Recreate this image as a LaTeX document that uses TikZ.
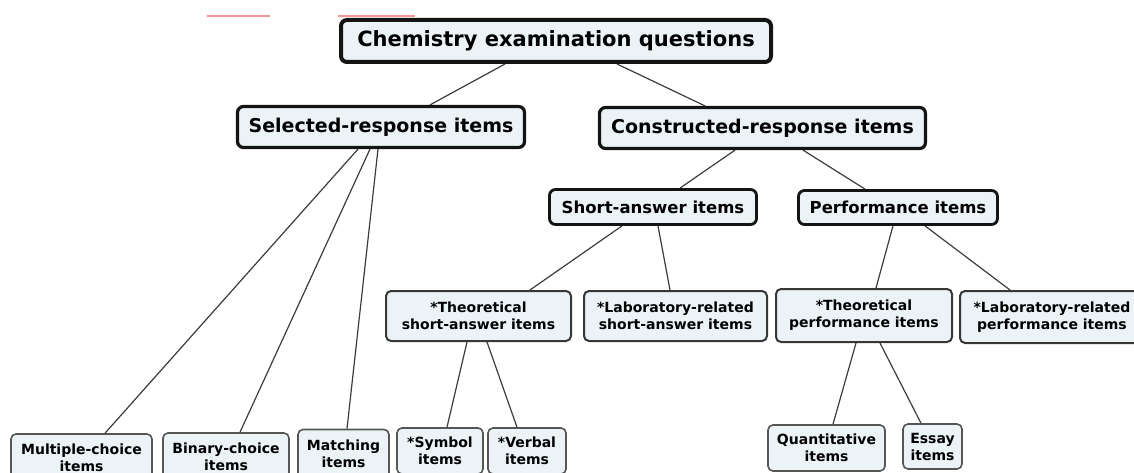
\documentclass[tikz,border=0pt]{standalone}
\usepackage{fontspec}
\setmainfont{DejaVu Sans}
\usetikzlibrary{backgrounds}
\definecolor{boxfill}{RGB}{236,243,246}
\definecolor{darkb}{RGB}{20,20,20}
\definecolor{greyb}{RGB}{85,85,85}
\definecolor{conncol}{RGB}{60,60,60}
\definecolor{redmark}{RGB}{245,150,150}
\tikzset{
  box/.style={rectangle, rounded corners=6pt, fill=boxfill, align=center, inner sep=0pt, text=black},
  lvA/.style={box, draw=darkb, line width=4pt, font=\fontsize{21}{24}\selectfont\bfseries},
  lvB/.style={box, draw=darkb, line width=3.2pt, font=\fontsize{19}{22}\selectfont\bfseries},
  lvC/.style={box, draw=darkb, line width=2.8pt, font=\fontsize{16.5}{19}\selectfont\bfseries},
  lvD/.style={box, draw=darkb!85, line width=2pt, rounded corners=5pt, font=\fontsize{14}{17}\selectfont\bfseries},
  lvE/.style={box, draw=greyb, line width=1.6pt, rounded corners=5pt, font=\fontsize{14}{17}\selectfont\bfseries},
  conn/.style={draw=conncol, line width=1.2pt},
}
\begin{document}
\begin{tikzpicture}[x=1pt,y=-1pt]
\useasboundingbox (0,0) rectangle (1134,473);
\draw[redmark, line width=1.2pt] (207,16) -- (270,16);
\draw[redmark, line width=1.2pt] (338,16) -- (415,16);
% level 1
\node[lvA, minimum width=430pt, minimum height=42pt] (root) at (556,41) {Chemistry examination questions};
% level 2
\node[lvB, minimum width=287pt, minimum height=41pt] (sel) at (381,127) {Selected-response items};
\node[lvB, minimum width=326pt, minimum height=41pt] (con) at (762.5,128) {Constructed-response items};
% level 3
\node[lvC, minimum width=207pt, minimum height=35pt] (sho) at (653,207) {Short-answer items};
\node[lvC, minimum width=199pt, minimum height=34pt] (per) at (898,207.5) {Performance items};
% level 4
\node[lvD, minimum width=185pt, minimum height=50pt] (ts) at (478.5,316) {*Theoretical\\short-answer items};
\node[lvD, minimum width=183pt, minimum height=50pt] (ls) at (675.5,316) {*Laboratory-related\\short-answer items};
\node[lvD, minimum width=176pt, minimum height=53pt] (tp) at (864,315.5) {*Theoretical\\performance items};
\node[lvD, minimum width=184pt, minimum height=52pt] (lp) at (1052,317) {*Laboratory-related\\performance items};
% level 5
\node[lvE, minimum width=141pt, minimum height=47pt] (mc) at (81.5,457.5) {Multiple-choice\\items};
\node[lvE, minimum width=126pt, minimum height=48pt] (bc) at (226,457) {Binary-choice\\items};
\node[lvE, minimum width=91pt, minimum height=49pt] (ma) at (343.5,454) {Matching\\items};
\node[lvE, minimum width=86pt, minimum height=46pt] (sy) at (440,451) {*Symbol\\items};
\node[lvE, minimum width=78pt, minimum height=46pt] (ve) at (527,451) {*Verbal\\items};
\node[lvE, minimum width=117pt, minimum height=46pt] (qu) at (826.5,448) {Quantitative\\items};
\node[lvE, minimum width=59pt, minimum height=45pt] (es) at (932.5,446.5) {Essay\\items};
% connectors
\begin{scope}[on background layer]
\draw[conn] ([xshift=-51pt]root.south) -- ([xshift=49pt]sel.north);
\draw[conn] ([xshift=61pt]root.south) -- ([xshift=-57.5pt]con.north);
\draw[conn] ([xshift=-23pt]sel.south) -- ([xshift=23.5pt]mc.north);
\draw[conn] ([xshift=-11pt]sel.south) -- ([xshift=14pt]bc.north);
\draw[conn] ([xshift=-3pt]sel.south) -- ([xshift=3.5pt]ma.north);
\draw[conn] ([xshift=-27.5pt]con.south) -- ([xshift=27pt]sho.north);
\draw[conn] ([xshift=40.5pt]con.south) -- ([xshift=-33pt]per.north);
\draw[conn] ([xshift=-31pt]sho.south) -- ([xshift=51.5pt]ts.north);
\draw[conn] ([xshift=5pt]sho.south) -- ([xshift=-5.5pt]ls.north);
\draw[conn] ([xshift=-5pt]per.south) -- ([xshift=12pt]tp.north);
\draw[conn] ([xshift=27pt]per.south) -- ([xshift=-42pt]lp.north);
\draw[conn] ([xshift=-11.5pt]ts.south) -- ([xshift=7pt]sy.north);
\draw[conn] ([xshift=8.5pt]ts.south) -- ([xshift=-10pt]ve.north);
\draw[conn] ([xshift=-8pt]tp.south) -- ([xshift=6.5pt]qu.north);
\draw[conn] ([xshift=16pt]tp.south) -- ([xshift=-11.5pt]es.north);
\end{scope}
\end{tikzpicture}
\end{document}
